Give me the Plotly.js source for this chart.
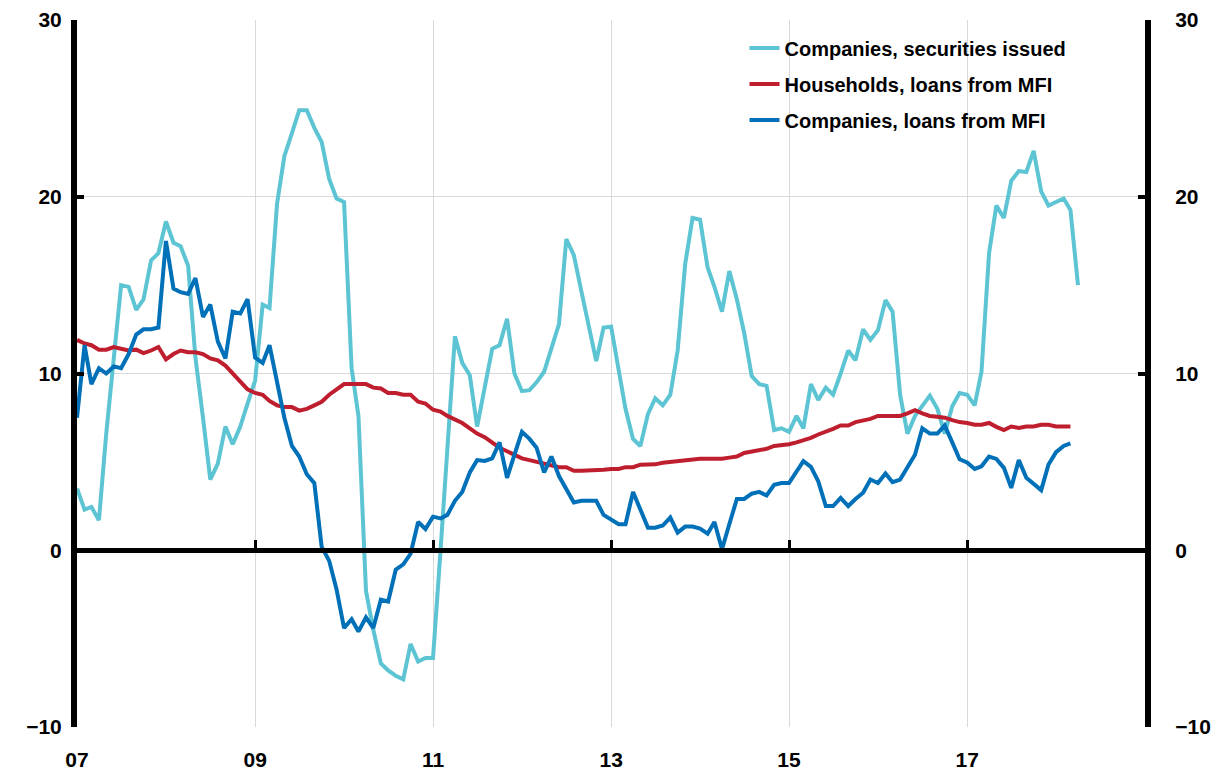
<!DOCTYPE html>
<html><head><meta charset="utf-8">
<script src="https://cdn.plot.ly/plotly-3.0.1.min.js"></script>
<style>html,body{margin:0;padding:0;background:#fff}#chart{width:1212px;height:773px}</style>
</head><body><div id="chart"></div>
<script>
// Monthly data, starting January 2007
const startYear = 2007;
const startMonth = 1;

const seriesNames = ['Companies, securities issued', 'Households, loans from MFI', 'Companies, loans from MFI'];

const securitiesIssued = [
  3.5, 2.3, 2.45, 1.7, 6.6, 11.0, 15.0, 14.9, 13.6, 14.2, 16.4, 16.8,
  18.6, 17.4, 17.2, 16.1, 10.9, 7.5, 4.0, 4.9, 7.0, 6.0, 7.0, 8.3,
  9.6, 13.9, 13.7, 19.6, 22.3, 23.6, 24.9, 24.9, 23.9, 23.1, 21.0, 19.9,
  19.7, 10.3, 7.6, -2.3, -4.5, -6.4, -6.8, -7.1, -7.3, -5.3, -6.3, -6.1,
  -6.1, 0.0, 6.0, 12.1, 10.6, 9.9, 7.0, 9.2, 11.4, 11.6, 13.1, 10.0,
  9.0, 9.06, 9.5, 10.1, 11.4, 12.8, 17.6, 16.7, 14.65, 12.6, 10.7, 12.6,
  12.65, 10.2, 8.0, 6.3, 5.9, 7.7, 8.6, 8.2, 8.8, 11.3, 16.2, 18.8,
  18.7, 16.0, 14.9, 13.5, 15.8, 14.2, 12.3, 9.85, 9.4, 9.3, 6.8, 6.9,
  6.7, 7.6, 6.9, 9.4, 8.5, 9.2, 8.8, 10.0, 11.3, 10.75, 12.5, 11.9,
  12.45, 14.15, 13.5, 8.8, 6.6, 7.6, 8.2, 8.75, 8.0, 6.6, 8.15, 8.9,
  8.8, 8.2, 10.1, 16.8, 19.5, 18.8, 20.9, 21.45, 21.4, 22.6, 20.3, 19.5,
  19.7, 19.9, 19.25, 15.0
];

const householdLoans = [
  11.9, 11.7, 11.6, 11.35, 11.35, 11.5, 11.4, 11.3, 11.35, 11.15, 11.3, 11.5,
  10.8, 11.1, 11.3, 11.2, 11.2, 11.1, 10.85, 10.75, 10.45, 10.0, 9.6, 9.1,
  8.9, 8.8, 8.45, 8.2, 8.1, 8.1, 7.9, 8.0, 8.2, 8.4, 8.8, 9.1,
  9.4, 9.4, 9.4, 9.4, 9.2, 9.15, 8.9, 8.9, 8.8, 8.8, 8.4, 8.3,
  7.95, 7.85, 7.6, 7.4, 7.2, 6.9, 6.6, 6.4, 6.1, 5.8, 5.6, 5.4,
  5.2, 5.1, 5.0, 4.86, 4.76, 4.7, 4.7, 4.5, 4.5, 4.5, 4.5, 4.55,
  4.6, 4.6, 4.7, 4.7, 4.84, 4.84, 4.86, 4.95, 5.0, 5.05, 5.05, 5.1,
  5.18, 5.18, 5.18, 5.18, 5.24, 5.3, 5.5, 5.6, 5.7, 5.74, 5.9, 5.93,
  6.0, 6.1, 6.2, 6.36, 6.55, 6.7, 6.87, 7.06, 7.06, 7.25, 7.36, 7.43,
  7.6, 7.6, 7.6, 7.6, 7.74, 7.92, 7.74, 7.6, 7.55, 7.5, 7.36, 7.25,
  7.2, 7.1, 7.1, 7.2, 6.98, 6.8, 7.0, 6.92, 7.0, 7.0, 7.1, 7.1,
  7.0, 7.0, 7.0
];

const companyLoans = [
  7.5, 11.6, 9.4, 10.3, 10.0, 10.4, 10.3, 11.1, 12.2, 12.5, 12.5, 12.6,
  17.5, 14.8, 14.6, 14.5, 15.4, 13.2, 13.9, 11.8, 10.85, 13.5, 13.4, 14.2,
  10.9, 10.6, 11.6, 9.4, 7.5, 5.9, 5.3, 4.3, 3.8, 0.2, -0.6, -2.2,
  -4.4, -3.9, -4.6, -3.8, -4.4, -2.8, -2.9, -1.1, -0.8, -0.2, 1.6, 1.2,
  1.9, 1.8, 2.0, 2.8, 3.3, 4.4, 5.1, 5.05, 5.2, 6.1, 4.1, 5.4,
  6.7, 6.3, 5.8, 4.4, 5.3, 4.2, 3.5, 2.7, 2.8, 2.8, 2.8, 2.0,
  1.75, 1.47, 1.47, 3.3, 2.3, 1.28, 1.28, 1.4, 1.85, 1.0, 1.34, 1.34,
  1.22, 0.94, 1.6, 0.06, 1.47, 2.9, 2.9, 3.2, 3.3, 3.1, 3.7, 3.8,
  3.8, 4.5, 5.04, 4.72, 3.9, 2.5, 2.5, 2.96, 2.5, 2.9, 3.25, 4.0,
  3.8, 4.34, 3.85, 4.0, 4.66, 5.4, 6.9, 6.6, 6.6, 7.06, 6.1, 5.15,
  4.97, 4.6, 4.75, 5.3, 5.17, 4.66, 3.53, 5.1, 4.1, 3.77, 3.4, 4.85,
  5.55, 5.9, 6.04
];

const tickYears = [2007, 2009, 2011, 2013, 2015, 2017, 2019];
const tickLabels = ['07', '09', '11', '13', '15', '17', ''];
const yTicks = [-10, 0, 10, 20, 30];
const yRange = [-10, 30];

const colors = ['#5CC4D2', '#BF1E2E', '#0070B8'];

function monthDates(n) {
  const out = [];
  for (let i = 0; i < n; i++) {
    const m0 = startMonth - 1 + i;
    const y = startYear + Math.floor(m0 / 12);
    const m = (m0 % 12) + 1;
    out.push(y + '-' + String(m).padStart(2, '0') + '-01');
  }
  return out;
}
const tickVals = tickYears.map(y => y + '-01-01');
const xRange = [tickVals[0], tickVals[tickVals.length - 1]];

const tickFont = {family: 'Liberation Sans, Arial, sans-serif', size: 21, color: '#000', weight: 700};
const legendFont = {family: 'Liberation Sans Narrow, Liberation Sans, Arial, sans-serif', size: 20, color: '#000', weight: 700};

const allSeries = [securitiesIssued, householdLoans, companyLoans];
const traces = allSeries.map((vals, k) => ({
  type: 'scatter', mode: 'lines',
  name: seriesNames[k],
  x: monthDates(vals.length), y: vals,
  line: {color: colors[k], width: 4},
  xaxis: k === 2 ? 'x2' : 'x',
  yaxis: k === 2 ? 'y2' : 'y',
  legendgroup: 'g' + k,
  hoverinfo: 'skip'
}));

const layout = {
  width: 1212, height: 773,
  margin: {l: 77, r: 67, t: 20, b: 46},
  paper_bgcolor: '#fff', plot_bgcolor: '#fff',
  showlegend: true,
  legend: {
    x: 0.625, y: 0.988, xanchor: 'left', yanchor: 'top',
    bgcolor: 'rgba(0,0,0,0)', font: legendFont,
    traceorder: 'grouped', tracegroupgap: 7, itemwidth: 30
  },
  xaxis: {
    type: 'date', range: xRange, domain: [0, 1],
    tickmode: 'array', tickvals: tickVals, ticktext: tickLabels,
    ticks: '', showline: false, zeroline: false,
    showgrid: true, gridcolor: '#d9d9d9', gridwidth: 1,
    tickfont: tickFont, ticklabelstandoff: 18
  },
  xaxis2: {
    type: 'date', overlaying: 'x', matches: 'x', anchor: 'free', position: 0.25, side: 'bottom',
    range: xRange,
    tickmode: 'array', tickvals: tickVals, showticklabels: false,
    ticks: 'inside', ticklen: 8, tickwidth: 3, tickcolor: '#000',
    showline: true, linecolor: '#000', linewidth: 5,
    showgrid: false, zeroline: false
  },
  yaxis: {
    range: yRange, tickmode: 'array', tickvals: yTicks,
    ticks: 'inside', ticklen: 7, tickwidth: 4, tickcolor: '#000',
    showline: true, linecolor: '#000', linewidth: 6,
    showgrid: true, gridcolor: '#d9d9d9', gridwidth: 1, zeroline: false,
    tickfont: tickFont, ticklabelstandoff: 5
  },
  yaxis2: {
    range: yRange, overlaying: 'y', matches: 'y', side: 'right', anchor: 'x2',
    tickmode: 'array', tickvals: yTicks,
    ticks: 'inside', ticklen: 7, tickwidth: 4, tickcolor: '#000',
    showline: true, linecolor: '#000', linewidth: 6,
    showgrid: false, zeroline: false,
    tickfont: tickFont, ticklabelstandoff: 20
  }
};

Plotly.newPlot('chart', traces, layout, {displayModeBar: false, staticPlot: true});
</script>
</body></html>
